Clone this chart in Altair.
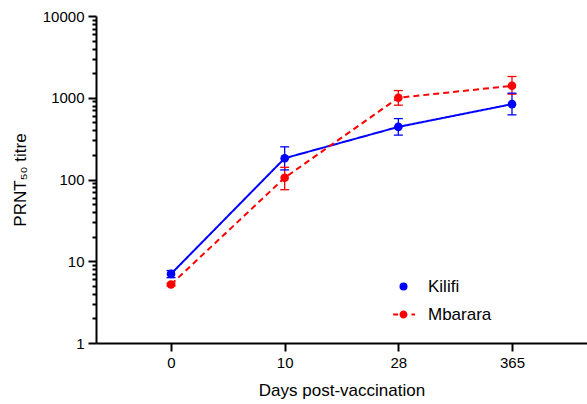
import altair as alt
import pandas as pd

# PRNT50 geometric mean titres with error bars, by site and day
days = ["0", "10", "28", "365"]
sites = ["Kilifi", "Mbarara"]

kilifi = [7.0, 182, 440, 835]
kilifi_lo = [6.3, 131, 349, 618]
kilifi_hi = [7.7, 251, 556, 1138]

mbarara = [5.2, 105, 1000, 1400]
mbarara_lo = [5.0, 75, 811, 1107]
mbarara_hi = [5.4, 141, 1225, 1820]

y_ticks = [m * 10 ** e for e in range(4) for m in range(1, 10)] + [10000]

rows = []
for site, vals, lo, hi in [("Kilifi", kilifi, kilifi_lo, kilifi_hi),
                           ("Mbarara", mbarara, mbarara_lo, mbarara_hi)]:
    for d, v, l, h in zip(days, vals, lo, hi):
        rows.append({"day": d, "site": site, "titre": v, "lo": l, "hi": h})
df = pd.DataFrame(rows)

FONT = "Liberation Sans"
major = "abs(log(datum.value)/LN10 - round(log(datum.value)/LN10)) < 0.001"

x_enc = alt.X(
    "day:O",
    sort=days,
    scale=alt.Scale(type="point", padding=0.66),
    axis=alt.Axis(
        title="Days post-vaccination", labelAngle=0, labelFontSize=15,
        titleFontSize=17, titleFontWeight="normal", titlePadding=12,
        tickSize=8, tickWidth=2, domainWidth=2, domainColor="black",
        tickColor="black", labelColor="black", titleColor="black",
        labelPadding=4, grid=False,
    ),
)
y_scale = alt.Scale(type="log", domain=[1, 10000], nice=False)
y_axis = alt.Axis(
    title="PRNT₅₀ titre", values=y_ticks,
    labelExpr=f"{major} ? format(datum.value, 'd') : ''",
    labelOverlap=False, labelFontSize=15, titleFontSize=17,
    titleFontWeight="normal", titlePadding=13,
    tickSize={"condition": {"test": major, "value": 8}, "value": 4},
    tickWidth=2, domainWidth=2, domainColor="black", tickColor="black",
    labelColor="black", titleColor="black", labelPadding=4, grid=False,
)

palette = ["#0000FF", "#FF0000"]
color_scale = alt.Scale(domain=sites, range=palette)
color_plain = alt.Color("site:N", scale=color_scale, legend=None)

base = alt.Chart(df)

# legend symbols: plain dot for Kilifi, dashed line through a dot for Mbarara
# (custom symbol paths are in units of half the symbol width)
dashed_dot = (
    "M-2.6,-0.25H-1.35V0.25H-2.6Z "
    "M2.0,-0.25H2.9V0.25H2.0Z "
    "M1,0A1,1,0,1,1,-1,0A1,1,0,1,1,1,0Z"
)
legend = alt.Legend(
    title=None, orient="none", legendX=299, legendY=262, padding=0,
    labelFontSize=17, labelFont=FONT, labelColor="black",
    symbolSize=64, symbolStrokeWidth=0, symbolOpacity=1,
    labelOffset=16, rowPadding=10,
)
legend_layer = base.transform_filter("false").mark_point(
    filled=True, size=64, opacity=1
).encode(
    x=x_enc,
    y=alt.Y("titre:Q", scale=y_scale, axis=y_axis),
    fill=alt.Fill("site:N", scale=alt.Scale(domain=sites, range=palette), legend=legend),
    shape=alt.Shape(
        "site:N", scale=alt.Scale(domain=sites, range=["circle", dashed_dot]), legend=legend
    ),
)

lines = base.mark_line(strokeWidth=2, opacity=1).encode(
    x=x_enc,
    y=alt.Y("titre:Q", scale=y_scale),
    color=color_plain,
    strokeDash=alt.StrokeDash(
        "site:N", scale=alt.Scale(domain=sites, range=[[1, 0], [6, 4]]), legend=None
    ),
)

rules = base.mark_rule(strokeWidth=1.3, opacity=1).encode(
    x=x_enc, y=alt.Y("lo:Q", scale=y_scale), y2="hi:Q", color=color_plain
)
caps_lo = base.mark_tick(size=9, thickness=1.3, opacity=1).encode(
    x=x_enc, y=alt.Y("lo:Q", scale=y_scale), color=color_plain
)
caps_hi = base.mark_tick(size=9, thickness=1.3, opacity=1).encode(
    x=x_enc, y=alt.Y("hi:Q", scale=y_scale), color=color_plain
)

points = base.mark_point(filled=True, size=75, opacity=1).encode(
    x=x_enc, y=alt.Y("titre:Q", scale=y_scale), color=color_plain
)

chart = (
    alt.layer(legend_layer, lines, rules, caps_lo, caps_hi, points)
    .properties(
        width=491, height=327,
        autosize=alt.AutoSizeParams(type="none"),
        padding={"left": 96, "top": 16, "right": 0, "bottom": 61},
    )
    .configure(font=FONT)
    .configure_view(stroke=None)
)

chart.save("out.html", embed_options={"renderer": "svg", "actions": False})
